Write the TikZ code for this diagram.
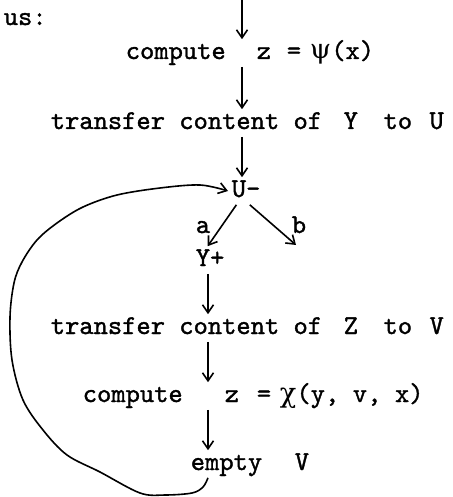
\documentclass[tikz,border=0pt]{standalone}
\usepackage{fontspec}
\setmonofont{lmmono10-regular.otf}[FakeBold=1.3]
\newfontfamily\grk{DejaVu Serif}
\usetikzlibrary{arrows.meta}

\begin{document}
\begin{tikzpicture}[x=0.5pt,y=-0.5pt,line width=0.8pt,
		>={Straight Barb[length=4pt,width=5.5pt]},
		txt/.style={anchor=base west,inner sep=1.5pt,text height=8pt,text depth=2pt,
			font=\fontsize{13.6}{16}\selectfont\ttfamily}]
	\useasboundingbox (0,0) rectangle (452,497);
	\def\ca{242} % column of the upper arrows
	\def\cb{208} % column of the lower arrows
	\coordinate (c1) at (\ca,0);
	\coordinate (c2) at (\cb,0);
	\node[txt] (us) at (0,25) {us:};
	\node[txt] (cz1) at (122,59) {compute\hspace{15.5pt}z\hspace{7.9pt}=\hspace{4.4pt}{\grk ψ}(x)};
	\node[txt] (tr1) at (47,129) {transfer content of\hspace{10.8pt}Y\hspace{12.8pt}to\hspace{8.7pt}U};
	\node[txt] (um) at (228,197) {U-};
	\node[txt] (la) at (192,233) {a};
	\node[txt] (lb) at (288,233) {b};
	\node[txt] (yp) at (192,266) {Y+};
	\node[txt] (tr2) at (47,334) {transfer content of\hspace{10.8pt}Z\hspace{12.8pt}to\hspace{8.7pt}V};
	\node[txt] (cz2) at (79,402) {compute\hspace{21pt}z\hspace{8.9pt}=\hspace{4.4pt}{\grk χ}(y,\hspace{6.8pt}v,\hspace{6.8pt}x)};
	\node[txt] (ev) at (187,470) {empty\hspace{16.3pt}V};
	\coordinate (bout) at (296,245);
	% straight run
	\draw[->] (c1) -- (cz1.north -| c1);
	\foreach \a/\b in {cz1/tr1,tr1/um} {
		\draw[->] (\a.south -| c1) -- (\b.north -| c1);}
	\foreach \a/\b in {yp/tr2,tr2/cz2,cz2/ev} {
		\draw[->] (\a.south -| c2) -- (\b.north -| c2);}
	% branches a and b
	\draw[->] (um.-125) -- (yp.100);
	\draw[->] (um.-75) -- (bout);
	% back to U-
	\coordinate (lp) at (ev.south -| c2);
	\draw[->] plot[smooth,tension=0.55] coordinates {(lp) (203,487) (192,493) (165,495) (140,493) (100,472) (67,455) (43,430) (23,400) (12,360) (10,317) (14,283) (22,262) (37,240) (57,223) (83,207) (117,195) (160,188) (200,185) (um.west)};
\end{tikzpicture}
\end{document}
